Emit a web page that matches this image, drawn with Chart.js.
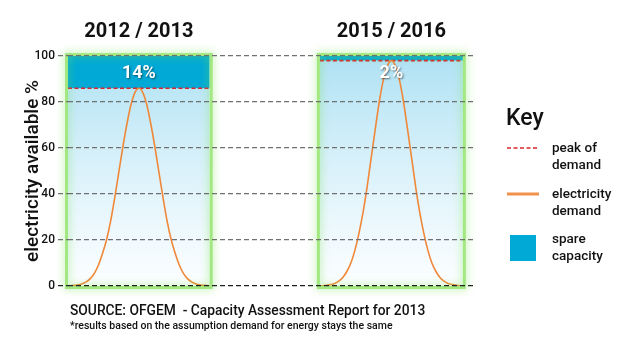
<!DOCTYPE html>
<html>
<head>
<meta charset="utf-8">
<script src="https://cdn.jsdelivr.net/npm/chart.js@4.4.1/dist/chart.umd.min.js"></script>
<style>
  html, body { margin: 0; padding: 0; background: #fff; }
  #wrap { position: relative; width: 640px; height: 360px; font-family: Roboto, "Noto Sans", sans-serif; color: #111; }
  #chart { position: absolute; left: 0; top: 0; }
  .key-title { position: absolute; left: 506px; top: 104px; font-size: 23px; font-weight: 500; }
  .key-text { position: absolute; left: 552px; font-size: 13.5px; line-height: 17px; font-weight: 500; }
  .key-sym { position: absolute; left: 506px; }
  .source { position: absolute; left: 70px; top: 302px; font-size: 13.8px; font-weight: 500; }
  .note { position: absolute; left: 70px; top: 319px; font-size: 10.5px; font-weight: 500; }
</style>
</head>
<body>
<div id="wrap">
  <canvas id="chart" width="640" height="360"></canvas>
  <div class="key-title">Key</div>
  <svg class="key-sym" style="top:146px" width="34" height="4"><line x1="1" y1="2" x2="33" y2="2" stroke="#d8262e" stroke-width="1.6" stroke-dasharray="4 2.5"/></svg>
  <div class="key-text" style="top:139px">peak of<br>demand</div>
  <svg class="key-sym" style="top:192px" width="34" height="4"><line x1="1" y1="2" x2="33" y2="2" stroke="#f0904a" stroke-width="3"/></svg>
  <div class="key-text" style="top:185px">electricity<br>demand</div>
  <div class="key-sym" style="left:510px; top:235px; width:26px; height:26px; background:#00a9d6"></div>
  <div class="key-text" style="top:230px">spare<br>capacity</div>
  <div class="source">SOURCE: OFGEM &nbsp;- Capacity Assessment Report for 2013</div>
  <div class="note">*results based on the assumption demand for energy stays the same</div>
</div>
<script>
document.addEventListener("DOMContentLoaded", () => {
    // two winters shown side by side
    const periods = ["2012 / 2013", "2015 / 2016"];
    const peakDemand = [86, 98];
    const spareLabels = ["14%", "2%"];
    const yTicks = [0, 20, 40, 60, 80, 100];

    // demand curve (offset from the middle of each panel)
    const curveOffsets = [-17.5, -16, -15, -14, -13, -12, -11, -10, -9, -8, -7, -6, -5, -4, -3, -2, -1, 0,
        1, 2, 3, 4, 5, 6, 7, 8, 9, 10, 11, 12, 13, 14, 15, 16, 17.5];
    const demand1213 = [0, 0.3, 0.5, 1, 1.8, 3.2, 5.5, 9, 14, 20, 28, 38, 49, 60, 70, 78.5, 84, 86,
        84, 78.5, 70, 60, 49, 38, 28, 20, 14, 9, 5.5, 3.2, 1.8, 1, 0.5, 0.3, 0];
    const demand1516 = [0, 0.3, 0.6, 1.1, 2.1, 3.7, 6.3, 10, 15.6, 23, 32, 43, 55.6, 68, 80, 89.5, 95.7, 98,
        95.7, 89.5, 80, 68, 55.6, 43, 32, 23, 15.6, 10, 6.3, 3.7, 2.1, 1.1, 0.6, 0.3, 0];

    // panel extents on the x scale
    const panels = [[0, 35], [62.2, 97.5]];
    const curves = [demand1213, demand1516];

    const bgGradient = (context) => {
        const { chart } = context;
        const area = chart.chartArea;
        if (!area) return "rgba(170,222,240,0.6)";
        const g = chart.ctx.createLinearGradient(0, area.top, 0, area.bottom);
        g.addColorStop(0, "rgba(160,220,242,0.85)");
        g.addColorStop(1, "rgba(250,253,255,0.6)");
        return g;
    };

    const datasets = [];
    panels.forEach(([x0, x1], i) => {
        const mid = (x0 + x1) / 2;
        datasets.push({
            label: "electricity demand " + periods[i],
            data: curveOffsets.map((d, k) => ({ x: mid + d, y: curves[i][k] })),
            borderColor: "#f0883a",
            borderWidth: 1.6,
            pointRadius: 0,
            cubicInterpolationMode: "monotone",
            fill: false,
            order: 0,
        });
        datasets.push({
            label: "peak of demand " + periods[i],
            data: [{ x: x0, y: peakDemand[i] }, { x: x1, y: peakDemand[i] }],
            borderColor: "#d8262e",
            borderWidth: 1.6,
            borderDash: [4, 2.5],
            pointRadius: 0,
            fill: false,
            order: 1,
        });
        datasets.push({
            label: "spare capacity " + periods[i],
            data: [{ x: x0, y: 100 }, { x: x1, y: 100 }],
            borderWidth: 0,
            pointRadius: 0,
            backgroundColor: "#00a9d6",
            fill: { target: { value: peakDemand[i] } },
            order: 2,
        });
        datasets.push({
            label: "panel " + periods[i],
            data: [{ x: x0, y: peakDemand[i] }, { x: x1, y: peakDemand[i] }],
            borderWidth: 0,
            pointRadius: 0,
            backgroundColor: bgGradient,
            fill: "origin",
            order: 3,
        });
    });

    const panelDecor = {
        id: "panelDecor",
        afterDatasetsDraw(chart) {
            const { ctx, scales } = chart;
            const xs = scales.x, ys = scales.y;
            panels.forEach(([x0, x1], i) => {
                const l = xs.getPixelForValue(x0), r = xs.getPixelForValue(x1);
                const t = ys.getPixelForValue(100), b = ys.getPixelForValue(0);
                ctx.save();
                ctx.strokeStyle = "rgba(140,225,100,0.75)";
                ctx.lineWidth = 3;
                ctx.shadowColor = "rgba(120,225,80,1)";
                ctx.shadowBlur = 9;
                ctx.strokeRect(l - 1.5, t - 1.5, r - l + 3, b - t + 3);
                ctx.restore();

                ctx.save();
                ctx.font = "bold 20px Roboto, sans-serif";
                ctx.fillStyle = "#111";
                ctx.textAlign = "center";
                ctx.textBaseline = "middle";
                ctx.fillText(periods[i], (l + r) / 2, t - 24);

                ctx.font = "bold 18px Roboto, sans-serif";
                ctx.fillStyle = "#fff";
                ctx.shadowColor = "rgba(0,0,0,0.5)";
                ctx.shadowBlur = 2;
                ctx.shadowOffsetX = 1;
                ctx.shadowOffsetY = 1;
                ctx.fillText(spareLabels[i], (l + r) / 2, ys.getPixelForValue(92.5));
                ctx.restore();
            });
        },
    };

    new Chart(document.getElementById("chart").getContext("2d"), {
        type: "line",
        data: { datasets },
        options: {
            responsive: false,
            animation: false,
            layout: { padding: { left: 14, right: 167, top: 56, bottom: 74 } },
            plugins: { legend: { display: false }, tooltip: { enabled: false } },
            scales: {
                x: { type: "linear", min: 0, max: 100, display: false },
                y: {
                    min: 0,
                    max: 100,
                    afterBuildTicks: (scale) => { scale.ticks = yTicks.map((v) => ({ value: v })); },
                    afterFit: (scale) => { scale.width = 54; },
                    border: { display: false, dash: [5, 3] },
                    grid: {
                        color: (c) => (c.tick && c.tick.value === 0 ? "#222" : "#707070"),
                        lineWidth: 1.3,
                        tickBorderDash: [5, 3],
                        tickLength: 10,
                        z: 1,
                    },
                    ticks: {
                        color: "#111",
                        padding: 3,
                        font: { family: "Roboto", size: 12, weight: "500" },
                    },
                    title: {
                        display: true,
                        text: "electricity available %",
                        color: "#111",
                        padding: { top: 8, bottom: 0 },
                        font: { family: "Roboto", size: 19, weight: "500" },
                    },
                },
            },
        },
        plugins: [panelDecor],
    });
});
</script>
</body>
</html>
